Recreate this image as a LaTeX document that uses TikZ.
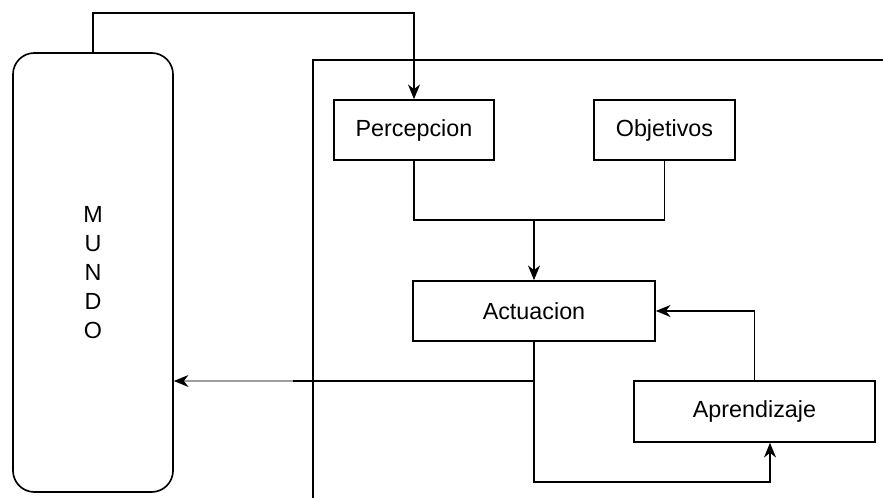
\documentclass[tikz,border=0pt]{standalone}
\usepackage{fontspec}
\setmainfont{Liberation Sans}
\usetikzlibrary{arrows.meta,calc}
\begin{document}
\begin{tikzpicture}[x=0.75pt,y=-0.75pt,
  line width=1.25pt,
  every node/.style={font=\fontsize{17.5}{21.75}\selectfont},
  box/.style={draw,rectangle,inner sep=0pt},
  arr/.style={-{Stealth[length=11pt,width=9pt,inset=3.5pt]}},
  garr/.style={draw=gray!75,line width=1.8pt,-{Stealth[length=11pt,width=9pt,inset=3.5pt,color=black,line width=0pt]}}]
\useasboundingbox (0,0) rectangle (883,498);

% world block
\node[box,rounded corners=16pt,minimum width=120pt,minimum height=329.25pt,align=center]
  (mundo) at (93,272.5) {M\\U\\N\\D\\O};

% agent frame
\draw (883,60) -- (313,60) -- (313,498);

% agent components
\node[box,minimum width=120pt,minimum height=45pt] (perc) at (414,130) {Percepcion};
\node[box,minimum width=105.75pt,minimum height=45pt] (obj) at (664.5,130) {Objetivos};
\node[box,minimum width=181.5pt,minimum height=45pt] (act) at (534,311) {Actuacion};
\node[box,minimum width=180.75pt,minimum height=45.75pt] (apr) at (754.5,411.5) {Aprendizaje};

\coordinate (join) at (534,220);
\coordinate (split) at (293,381);
\coordinate (low) at (534,482);

% world -> perception
\draw[arr] (mundo.north) -- ++(0,-39) -| (perc.north);
% perception + goals -> action
\draw (perc.south) |- (join) -| (obj.south);
\draw[arr] (join) -- (act.north);
% learning -> action
\draw[arr] (apr.north) |- (act.east);
% action -> learning
\draw[arr] (act.south) -- (low) -| ($(apr.south)+(15.5,0)$);
% action -> world
\draw (act.south |- split) -- (split);
\draw[garr] (split) -- (mundo.east |- split);
\end{tikzpicture}
\end{document}
